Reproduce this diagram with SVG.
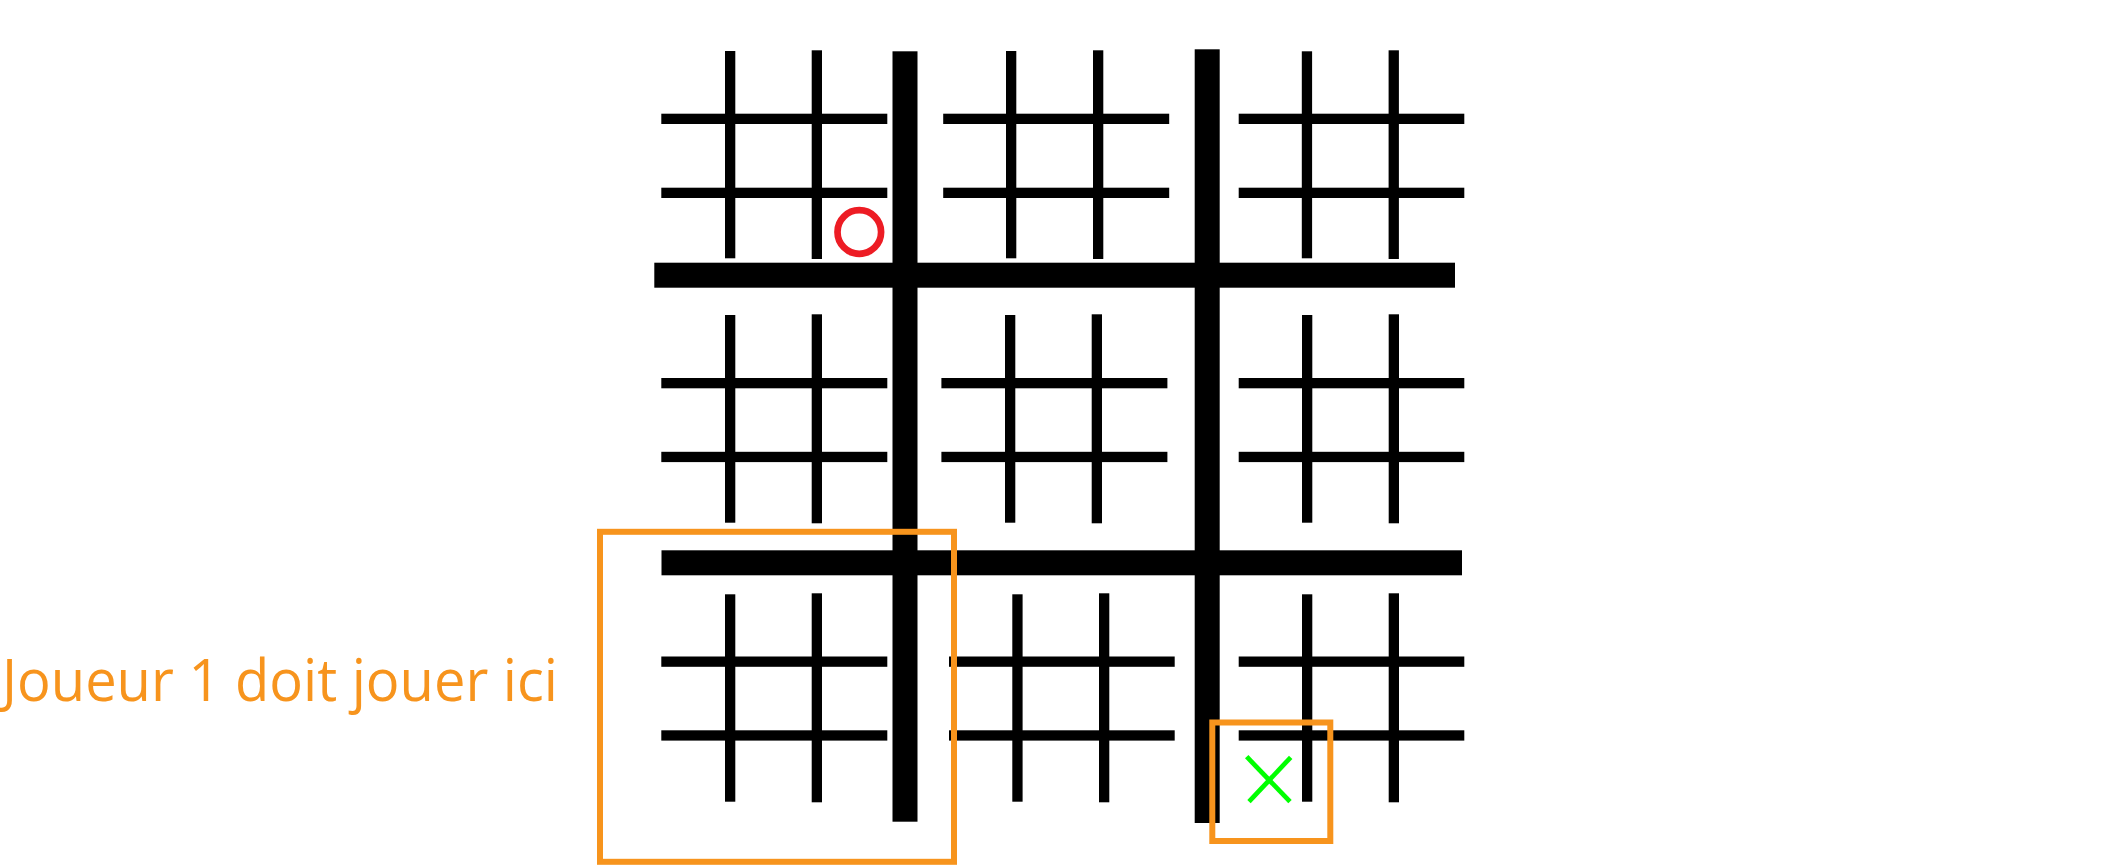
<svg xmlns="http://www.w3.org/2000/svg" width="2124" height="865" viewBox="0 0 2124 865">
  <style>
    .v { fill: #000; }
    .h { fill: #000; }
    .thick { fill: #000; }
    .hl { fill: none; stroke: #F7941D; stroke-width: 6; }
    .label { font-family: "Open Sans", "Noto Sans", "Liberation Sans", sans-serif; font-size: 59px; fill: #F7941D; }
  </style>
  <rect width="2124" height="865" fill="#fff"/>

  <g id="main-grid">
    <rect class="thick" x="654.3" y="262.7" width="800.7" height="25"/>
    <rect class="thick" x="661.5" y="550.3" width="800.5" height="25"/>
    <rect class="thick" x="892.5" y="51.3" width="25" height="770.4"/>
    <rect class="thick" x="1194.7" y="49.3" width="25" height="773.7"/>
  </g>

  <g id="board-top-left">
    <rect class="v" x="725" y="51" width="10.3" height="207.3"/>
    <rect class="v" x="811.7" y="50.3" width="10.3" height="208.7"/>
    <rect class="h" x="661.3" y="113.7" width="226" height="10.3"/>
    <rect class="h" x="661.3" y="187.7" width="226" height="10.3"/>
  </g>
  <g id="board-top-middle">
    <rect class="v" x="1006" y="51" width="10.3" height="207.3"/>
    <rect class="v" x="1093" y="50.3" width="10.3" height="208.7"/>
    <rect class="h" x="943.2" y="113.7" width="226" height="10.3"/>
    <rect class="h" x="943.2" y="187.7" width="226" height="10.3"/>
  </g>
  <g id="board-top-right">
    <rect class="v" x="1301.8" y="51.3" width="10.3" height="207"/>
    <rect class="v" x="1388.6" y="50.3" width="10.3" height="208.7"/>
    <rect class="h" x="1238.7" y="113.7" width="225.6" height="10.3"/>
    <rect class="h" x="1238.7" y="187.7" width="225.6" height="10.3"/>
  </g>

  <g id="board-middle-left">
    <rect class="v" x="725" y="315" width="10.3" height="207.7"/>
    <rect class="v" x="811.7" y="314.3" width="10.3" height="209"/>
    <rect class="h" x="661.3" y="378" width="226" height="10.3"/>
    <rect class="h" x="661.3" y="451.8" width="226" height="10.3"/>
  </g>
  <g id="board-middle-middle">
    <rect class="v" x="1005" y="315" width="10.3" height="207.7"/>
    <rect class="v" x="1091.7" y="314.3" width="10.3" height="209"/>
    <rect class="h" x="941.4" y="378" width="226" height="10.3"/>
    <rect class="h" x="941.4" y="451.8" width="226" height="10.3"/>
  </g>
  <g id="board-middle-right">
    <rect class="v" x="1302" y="315" width="10.3" height="207.7"/>
    <rect class="v" x="1388.7" y="314.3" width="10.3" height="209"/>
    <rect class="h" x="1238.7" y="378" width="225.6" height="10.3"/>
    <rect class="h" x="1238.7" y="451.8" width="225.6" height="10.3"/>
  </g>

  <g id="board-bottom-left">
    <rect class="v" x="725" y="594.3" width="10.3" height="207.4"/>
    <rect class="v" x="811.7" y="593.3" width="10.3" height="209"/>
    <rect class="h" x="661.3" y="656.5" width="226" height="10.3"/>
    <rect class="h" x="661.3" y="730.3" width="226" height="10.3"/>
  </g>
  <g id="board-bottom-middle">
    <rect class="v" x="1012.3" y="594.3" width="10.3" height="207.4"/>
    <rect class="v" x="1099" y="593.3" width="10.3" height="209"/>
    <rect class="h" x="949" y="656.5" width="225.7" height="10.3"/>
    <rect class="h" x="949" y="730.3" width="225.7" height="10.3"/>
  </g>
  <g id="board-bottom-right">
    <rect class="v" x="1302" y="594.3" width="10.3" height="207.4"/>
    <rect class="v" x="1388.7" y="593.3" width="10.3" height="209"/>
    <rect class="h" x="1238.7" y="656.5" width="225.6" height="10.3"/>
    <rect class="h" x="1238.7" y="730.3" width="225.6" height="10.3"/>
  </g>

  <g id="mark-o">
    <circle cx="859.3" cy="232" r="21.8" fill="none" stroke="#ED1C24" stroke-width="6.7"/>
  </g>
  <g id="mark-x" stroke="#00FF00" stroke-width="4.7" stroke-linecap="butt">
    <line x1="1246.7" y1="756.7" x2="1290" y2="801.7"/>
    <line x1="1290.7" y1="757.3" x2="1249" y2="801.7"/>
  </g>

  <g id="highlight-board">
    <rect class="hl" x="600" y="531.8" width="354" height="330"/>
  </g>
  <g id="highlight-cell">
    <rect class="hl" x="1212.3" y="722.5" width="118" height="118.5"/>
  </g>

  <g id="label">
    <text class="label" x="2" y="701" textLength="556" lengthAdjust="spacingAndGlyphs">Joueur 1 doit jouer ici</text>
  </g>
</svg>
